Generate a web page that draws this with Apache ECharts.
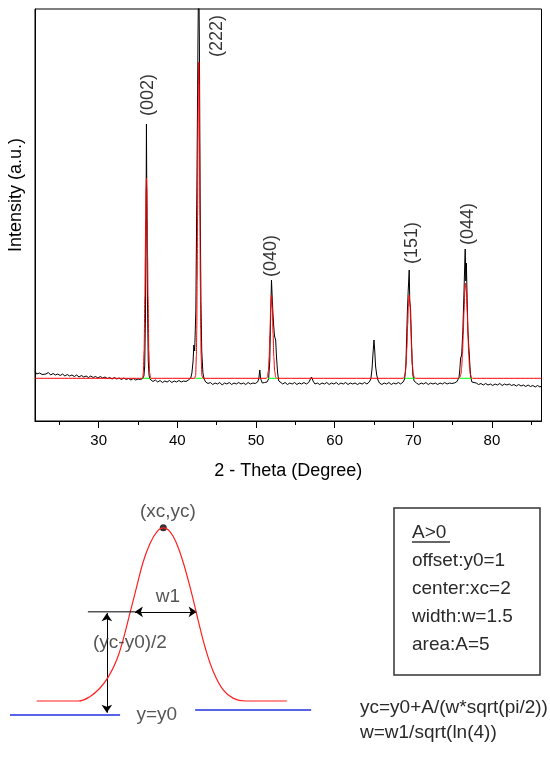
<!DOCTYPE html>
<html>
<head>
<meta charset="utf-8">
<script src="https://cdn.jsdelivr.net/npm/echarts/dist/echarts.min.js"></script>
<style>
  html, body { margin: 0; padding: 0; background: #fff; }
  #main { width: 550px; height: 767px; }
</style>
</head>
<body>
<div id="main"></div>
<script>
// XRD pattern, 2-theta (deg) vs intensity (a.u.)
const measured = [
  [21.9, 50], [22.1, 47], [22.3, 49], [22.5, 48], [22.8, 46.5], [23.0, 48], [23.3, 47], [23.6, 48.5],
  [23.9, 46], [24.2, 47.5], [24.5, 46], [24.8, 47], [25.1, 45.5], [25.4, 47], [25.7, 45], [26.0, 46.5],
  [26.3, 45], [26.6, 46], [26.9, 44.5], [27.2, 46], [27.5, 44], [27.8, 45.5], [28.1, 44], [28.4, 45],
  [28.7, 43.5], [29.0, 45], [29.3, 43.5], [29.6, 44.5], [29.9, 43], [30.2, 44.5], [30.5, 43], [30.8, 44],
  [31.1, 42.5], [31.4, 43.5], [31.7, 42], [32.0, 43.5], [32.3, 42], [32.6, 43], [32.9, 41.5], [33.2, 43],
  [33.5, 41.5], [33.8, 42.5], [34.1, 41], [34.4, 42.5], [34.7, 41], [35.0, 42], [35.3, 41.5], [35.6, 42.5],
  [35.75, 45], [35.85, 55], [35.95, 110], [36.02, 200], [36.07, 297], [36.12, 220], [36.2, 120], [36.3, 60],
  [36.4, 46], [36.5, 42], [36.6, 41], [36.9, 39.5], [37.2, 41], [37.5, 39], [37.8, 40.5], [38.1, 38.5],
  [38.4, 40], [38.7, 39], [39.0, 40.5], [39.3, 38.5], [39.6, 40], [39.9, 39], [40.2, 40.5], [40.5, 39],
  [40.8, 40], [41.1, 39.5], [41.4, 41], [41.7, 43], [41.85, 48], [42.0, 60], [42.1, 76], [42.2, 70],
  [42.35, 110], [42.5, 250], [42.62, 380], [42.72, 460], [42.8, 380], [42.9, 220], [43.0, 120], [43.1, 70],
  [43.25, 48], [43.4, 42], [43.6, 39], [43.9, 37.5], [44.2, 38.5], [44.5, 36.5], [44.8, 38], [45.1, 37],
  [45.4, 38.5], [45.7, 36], [46.0, 38], [46.3, 37], [46.6, 38.5], [46.9, 36.5], [47.2, 38], [47.5, 37],
  [47.8, 38.5], [48.1, 37], [48.4, 38], [48.7, 36.5], [49.0, 38.5], [49.3, 37], [49.6, 38], [49.9, 37.5],
  [50.2, 39], [50.35, 42], [50.48, 51], [50.6, 42], [50.8, 38], [51.1, 38.5], [51.4, 39], [51.6, 42],
  [51.75, 60], [51.85, 100], [51.97, 141], [52.05, 125], [52.15, 108], [52.25, 95], [52.35, 85], [52.5, 81],
  [52.6, 65], [52.75, 48], [52.9, 40], [53.1, 38], [53.4, 37], [53.7, 38.5], [54.0, 36.5], [54.3, 38],
  [54.6, 37], [54.9, 38.5], [55.2, 36.5], [55.5, 38], [55.8, 37], [56.1, 38.5], [56.4, 37], [56.7, 38.5],
  [56.9, 40], [57.06, 44], [57.25, 40], [57.5, 37], [57.8, 38], [58.1, 36.5], [58.4, 38], [58.7, 37],
  [59.0, 38.5], [59.3, 36.5], [59.6, 38], [59.9, 37], [60.2, 38.5], [60.5, 36.5], [60.8, 38], [61.1, 37],
  [61.4, 38.5], [61.7, 36.5], [62.0, 38], [62.3, 37], [62.6, 38], [62.9, 36.5], [63.2, 38], [63.5, 37],
  [63.8, 38.5], [64.1, 37], [64.4, 39], [64.6, 42], [64.75, 52], [64.88, 68], [65.0, 81], [65.1, 70],
  [65.2, 55], [65.35, 46], [65.5, 41], [65.7, 38], [66.0, 36.5], [66.3, 38], [66.6, 37], [66.9, 38.5],
  [67.2, 36.5], [67.5, 38], [67.8, 37], [68.1, 38.5], [68.4, 37], [68.7, 39], [68.9, 42], [69.05, 55],
  [69.15, 82], [69.25, 110], [69.35, 130], [69.48, 151], [69.55, 120], [69.65, 112], [69.75, 85], [69.85, 60],
  [69.95, 46], [70.1, 40], [70.4, 38], [70.7, 36.5], [71.0, 38], [71.3, 37], [71.6, 38.5], [71.9, 36.5],
  [72.2, 38], [72.5, 37], [72.8, 38], [73.1, 36.5], [73.4, 38], [73.7, 37], [74.0, 38.5], [74.3, 37],
  [74.6, 38], [74.9, 37.5], [75.2, 38], [75.5, 39], [75.8, 43], [75.9, 50], [76.02, 63], [76.15, 66],
  [76.3, 90], [76.45, 130], [76.55, 160], [76.6, 172], [76.68, 140], [76.75, 158], [76.85, 120], [76.95, 90],
  [77.05, 75], [77.1, 69], [77.2, 55], [77.3, 44], [77.45, 39], [77.7, 37], [78.0, 38], [78.3, 36.5],
  [78.6, 37.5], [78.9, 36], [79.2, 37.5], [79.5, 36], [79.8, 37], [80.1, 35.5], [80.4, 37], [80.7, 36],
  [81.0, 37.5], [81.3, 35.5], [81.6, 37], [81.9, 36], [82.2, 37], [82.5, 35.5], [82.8, 36.5], [83.1, 35],
  [83.4, 36.5], [83.7, 35], [84.0, 36], [84.3, 34.5], [84.6, 36], [84.9, 34.5], [85.2, 35.5], [85.5, 34],
  [85.8, 35.5], [86.1, 34], [86.3, 35]
];

// fitted curve (red)
const fitted = [
  [21.9, 42.7], [35.6, 42.7],
  [35.67, 48.5], [35.77, 70], [35.87, 125], [35.92, 164], [35.97, 203], [36.02, 232], [36.07, 243],
  [36.12, 232], [36.17, 203], [36.22, 164], [36.27, 125], [36.37, 70], [36.47, 48.5], [36.6, 42.7],
  [42.2, 42.7], [42.32, 45.5], [42.42, 65], [42.47, 92], [42.52, 140], [42.57, 205], [42.62, 278],
  [42.67, 337], [42.72, 359], [42.77, 337], [42.82, 278], [42.87, 205], [42.92, 140], [42.97, 92],
  [43.02, 65], [43.12, 45.5], [43.25, 42.7],
  [51.3, 42.7], [51.42, 43.5], [51.57, 49.8], [51.67, 63.5], [51.77, 87.7], [51.87, 114], [51.97, 126],
  [52.07, 114], [52.17, 87.7], [52.27, 63.5], [52.37, 49.8], [52.52, 43.5], [52.65, 42.7],
  [68.7, 42.7], [68.83, 43.4], [68.98, 47.6], [69.08, 56.3], [69.18, 72.7], [69.28, 95.6], [69.38, 117],
  [69.48, 126], [69.58, 117], [69.68, 95.6], [69.78, 72.7], [69.88, 56.3], [69.98, 47.6], [70.13, 43.4],
  [70.3, 42.7],
  [75.75, 42.7], [75.9, 43.4], [76.05, 46.9], [76.15, 53.5], [76.25, 66.4], [76.35, 86.2], [76.45, 110],
  [76.55, 130], [76.65, 137.7], [76.75, 130], [76.85, 110], [76.95, 86.2], [77.05, 66.4], [77.15, 53.5],
  [77.25, 46.9], [77.4, 43.4], [77.55, 42.7], [86.3, 42.7]
];

// per-peak baseline (green)
const fitBaseline = 42.7;
const fitBaseRanges = [[35.6, 36.6], [42.3, 43.2], [51.5, 52.6], [68.9, 70.2], [75.9, 77.4]];

const peakNames = ['(002)', '(222)', '(040)', '(151)', '(044)'];
const peakLabelPos = [[36.23, 326], [45.1, 385], [51.97, 165], [69.78, 178], [76.98, 197]];

const majorTicks = [30, 40, 50, 60, 70, 80];
const minorTicks = [25, 35, 45, 55, 65, 75, 85];

// Gaussian sketch (diagram units: xc = 2, y0 = 1)
const gaussCurve = [
  [-1.34, 1.0], [-0.24, 1.0], [0.07, 1.07], [0.33, 1.2], [0.55, 1.37], [0.77, 1.63], [0.94, 1.94],
  [1.12, 2.35], [1.3, 2.76], [1.47, 3.14], [1.65, 3.42], [1.83, 3.6], [2.0, 3.66], [2.18, 3.6],
  [2.35, 3.42], [2.53, 3.12], [2.75, 2.65], [2.92, 2.24], [3.1, 1.83], [3.32, 1.45], [3.58, 1.17],
  [3.85, 1.04], [4.16, 1.0], [5.26, 1.0]
];
const y0Left = [[-2.12, 0.785], [0.86, 0.785]];
const y0Right = [[2.84, 0.86], [5.9, 0.86]];
const halfLine = [[0.01, 2.37], [1.25, 2.37]];
const w1Arrow = [[1.25, 2.37], [2.88, 2.37]];
const halfArrow = [[0.51, 2.35], [0.51, 0.82]];
const peakTop = [2, 3.66];
const diagramNotes = [
  ['(xc,yc)', 2.12, 3.9],
  ['w1', 2.12, 2.6],
  ['(yc-y0)/2', 1.12, 1.89],
  ['y=y0', 1.83, 0.785]
];
const boxLines = ['A>0', 'offset:y0=1', 'center:xc=2', 'width:w=1.5', 'area:A=5'];
const formulas = ['yc=y0+A/(w*sqrt(pi/2))', 'w=w1/sqrt(ln(4))'];

const FONT = '"Liberation Sans", Arial, sans-serif';
const chart = echarts.init(document.getElementById('main'));

const greenSeries = fitBaseRanges.map(function (r) {
  return {
    type: 'line',
    xAxisIndex: 0,
    yAxisIndex: 0,
    data: [[r[0], fitBaseline], [r[1], fitBaseline]],
    showSymbol: false,
    silent: true,
    z: 4,
    lineStyle: { color: '#00ff00', width: 1 }
  };
});

const graphics = [
  {
    type: 'text',
    x: 16,
    y: 195,
    rotation: Math.PI / 2,
    style: {
      text: 'Intensity (a.u.)',
      font: '18px ' + FONT,
      fill: '#000',
      textAlign: 'center',
      textVerticalAlign: 'middle'
    }
  },
  {
    type: 'rect',
    shape: { x: 394, y: 508, width: 146, height: 167 },
    style: { fill: 'none', stroke: '#333', lineWidth: 1.5 }
  },
  {
    type: 'line',
    shape: { x1: 412, y1: 542, x2: 450, y2: 542 },
    style: { stroke: '#333', lineWidth: 1.5 }
  }
];
boxLines.forEach(function (t, i) {
  graphics.push({
    type: 'text',
    x: 412,
    y: 533 + i * 28,
    style: { text: t, font: '19px ' + FONT, fill: '#2a2a2a', textAlign: 'left', textVerticalAlign: 'middle' }
  });
});
formulas.forEach(function (t, i) {
  graphics.push({
    type: 'text',
    x: 360,
    y: 708 + i * 25,
    style: { text: t, font: '19px ' + FONT, fill: '#2a2a2a', textAlign: 'left', textVerticalAlign: 'middle' }
  });
});

const option = {
  animation: false,
  backgroundColor: '#fff',
  grid: [
    { left: 35, right: 8.5, top: 9, bottom: 346, show: true, borderColor: '#000', borderWidth: 1 },
    { left: 11.7, right: 7.7, top: 479.7, bottom: 0.9 }
  ],
  xAxis: [
    {
      gridIndex: 0,
      type: 'value',
      min: 21.9,
      max: 86.3,
      name: '2 - Theta (Degree)',
      nameLocation: 'middle',
      nameGap: 41,
      nameTextStyle: { fontSize: 18, color: '#000', fontFamily: FONT },
      axisLine: { onZero: false, lineStyle: { color: '#000', width: 1 } },
      axisTick: { show: true, customValues: majorTicks, length: 7, lineStyle: { color: '#000' } },
      axisLabel: { customValues: majorTicks, fontSize: 15, color: '#000', fontFamily: FONT, margin: 12 },
      splitLine: { show: false }
    },
    {
      gridIndex: 0,
      type: 'value',
      position: 'bottom',
      min: 21.9,
      max: 86.3,
      axisLine: { show: false },
      axisTick: { show: true, customValues: minorTicks, length: 4, lineStyle: { color: '#000' } },
      axisLabel: { show: false },
      splitLine: { show: false }
    },
    { gridIndex: 1, type: 'value', min: -2, max: 12, show: false }
  ],
  yAxis: [
    {
      gridIndex: 0,
      type: 'value',
      min: 0,
      max: 412,
      axisLine: { show: true, lineStyle: { color: '#000' } },
      axisTick: { show: false },
      axisLabel: { show: false },
      splitLine: { show: false }
    },
    { gridIndex: 1, type: 'value', min: 0, max: 4.4, show: false }
  ],
  graphic: graphics,
  series: [
    {
      type: 'line',
      xAxisIndex: 0,
      yAxisIndex: 0,
      data: measured,
      showSymbol: false,
      z: 2,
      lineStyle: { color: '#000', width: 1 }
    },
    {
      type: 'line',
      xAxisIndex: 0,
      yAxisIndex: 0,
      data: fitted,
      showSymbol: false,
      smooth: 0.3,
      smoothMonotone: 'x',
      z: 3,
      lineStyle: { color: '#ff0000', width: 1 }
    }
  ].concat(greenSeries).concat([
    {
      type: 'scatter',
      xAxisIndex: 0,
      yAxisIndex: 0,
      symbolSize: 1,
      itemStyle: { color: 'transparent' },
      z: 5,
      data: peakLabelPos.map(function (p, i) {
        return { value: p, label: { formatter: peakNames[i] } };
      }),
      label: {
        show: true,
        position: 'inside',
        rotate: 90,
        fontSize: 18,
        fontFamily: FONT,
        color: '#000'
      }
    },
    // diagram
    {
      type: 'line',
      xAxisIndex: 2,
      yAxisIndex: 1,
      data: gaussCurve,
      showSymbol: false,
      smooth: 0.4,
      clip: false,
      lineStyle: { color: '#ff2020', width: 1.2 }
    },
    {
      type: 'line',
      xAxisIndex: 2,
      yAxisIndex: 1,
      data: y0Left,
      showSymbol: false,
      clip: false,
      lineStyle: { color: '#2030e0', width: 1.5 }
    },
    {
      type: 'line',
      xAxisIndex: 2,
      yAxisIndex: 1,
      data: y0Right,
      showSymbol: false,
      clip: false,
      lineStyle: { color: '#2030e0', width: 1.5 }
    },
    {
      type: 'line',
      xAxisIndex: 2,
      yAxisIndex: 1,
      data: halfLine,
      showSymbol: false,
      lineStyle: { color: '#000', width: 1 }
    },
    {
      type: 'lines',
      coordinateSystem: 'cartesian2d',
      xAxisIndex: 2,
      yAxisIndex: 1,
      symbol: ['arrow', 'arrow'],
      symbolSize: 8,
      lineStyle: { color: '#000', width: 1, opacity: 1, curveness: 0 },
      data: [{ coords: w1Arrow }, { coords: halfArrow }]
    },
    {
      type: 'scatter',
      xAxisIndex: 2,
      yAxisIndex: 1,
      symbol: 'circle',
      symbolSize: 7,
      itemStyle: { color: '#000' },
      data: [peakTop]
    },
    {
      type: 'scatter',
      xAxisIndex: 2,
      yAxisIndex: 1,
      symbolSize: 1,
      itemStyle: { color: 'transparent' },
      z: 6,
      data: diagramNotes.map(function (n) {
        return { value: [n[1], n[2]], label: { formatter: n[0] } };
      }),
      label: {
        show: true,
        position: 'inside',
        fontSize: 19,
        fontFamily: FONT,
        color: '#2a2a2a'
      }
    }
  ])
};

chart.setOption(option);
</script>
</body>
</html>
